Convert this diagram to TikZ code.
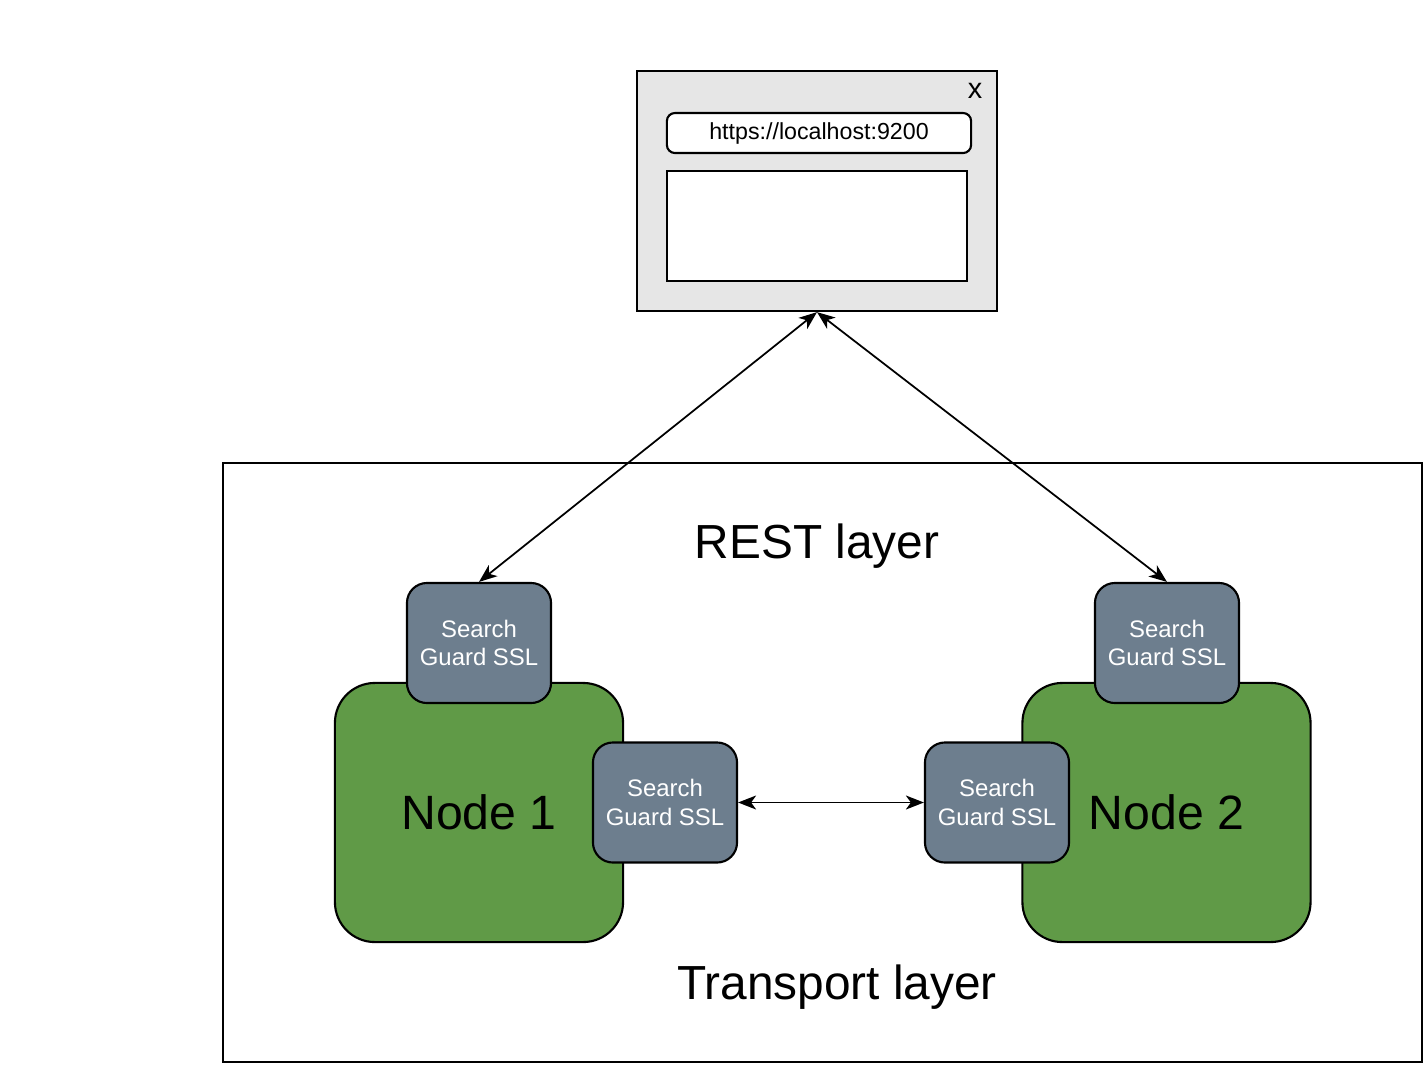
\documentclass[tikz,border=0pt]{standalone}
\usepackage{fontspec}
\setmainfont{Liberation Sans}
\usetikzlibrary{arrows.meta}

\definecolor{winGray}{HTML}{E6E6E6}
\definecolor{nodeGreen}{HTML}{609A47}
\definecolor{sslGray}{HTML}{6D7E8E}

\tikzset{
    sslbox/.style={draw, fill=sslGray, rounded corners=0.2cm, minimum width=1.44cm,
        minimum height=1.2cm, inner sep=0pt, text=white, align=center,
        font=\fontsize{6.8}{8}\selectfont, line width=0.6pt},
    esnode/.style={draw, fill=nodeGreen, rounded corners=0.4cm, minimum width=2.88cm,
        minimum height=2.59cm, inner sep=0pt, font=\fontsize{13.7}{16}\selectfont, line width=0.6pt},
    link/.style={{Stealth[length=0.18cm, width=0.14cm, inset=0.05cm]}-{Stealth[length=0.18cm, width=0.14cm, inset=0.05cm]}, line width=0.5pt},
    bigtext/.style={font=\fontsize{13.6}{16}\selectfont}
}

\begin{document}
\begin{tikzpicture}[x=0.01cm, y=-0.01cm]
        \useasboundingbox (0, 0) rectangle (1426, 1066);

        % Browser
        \node[draw, fill=winGray, minimum width=3.6cm, minimum height=2.4cm, line width=0.6pt] (browser) at (817, 191) {};
        \node[font=\fontsize{8.2}{10}\selectfont] (close) at (975, 91) {x};
        \node[draw, fill=white, rounded corners=0.08cm, minimum width=3.04cm, minimum height=0.4cm,
            inner sep=0pt, font=\fontsize{6.6}{8}\selectfont, line width=0.6pt] (url) at (819, 133) {https://localhost:9200};
        \node[draw, fill=white, minimum width=3cm, minimum height=1.1cm, line width=0.6pt] (page) at (817, 226) {};

        % Cluster
        \draw[line width=0.5pt] (223, 463) rectangle (1422, 1062);
        \node[bigtext] (rest) at (817, 546) {REST layer};
        \node[bigtext] (transport) at (837, 987) {Transport layer};

        \node[esnode] (node1) at (479, 812.5) {Node 1};
        \node[esnode] (node2) at (1166.5, 812.5) {Node 2};

        \node[sslbox] (ssl1) at (479, 643) {Search\\Guard SSL};
        \node[sslbox] (ssl2) at (665, 802.5) {Search\\Guard SSL};
        \node[sslbox] (ssl3) at (997, 802.5) {Search\\Guard SSL};
        \node[sslbox] (ssl4) at (1167, 643) {Search\\Guard SSL};

        % Connections
        \draw[link] (browser.south) -- (ssl1.north);
        \draw[link] (browser.south) -- (ssl4.north);
        \draw[link] (ssl2.east) -- (ssl3.west);
\end{tikzpicture}
\end{document}
